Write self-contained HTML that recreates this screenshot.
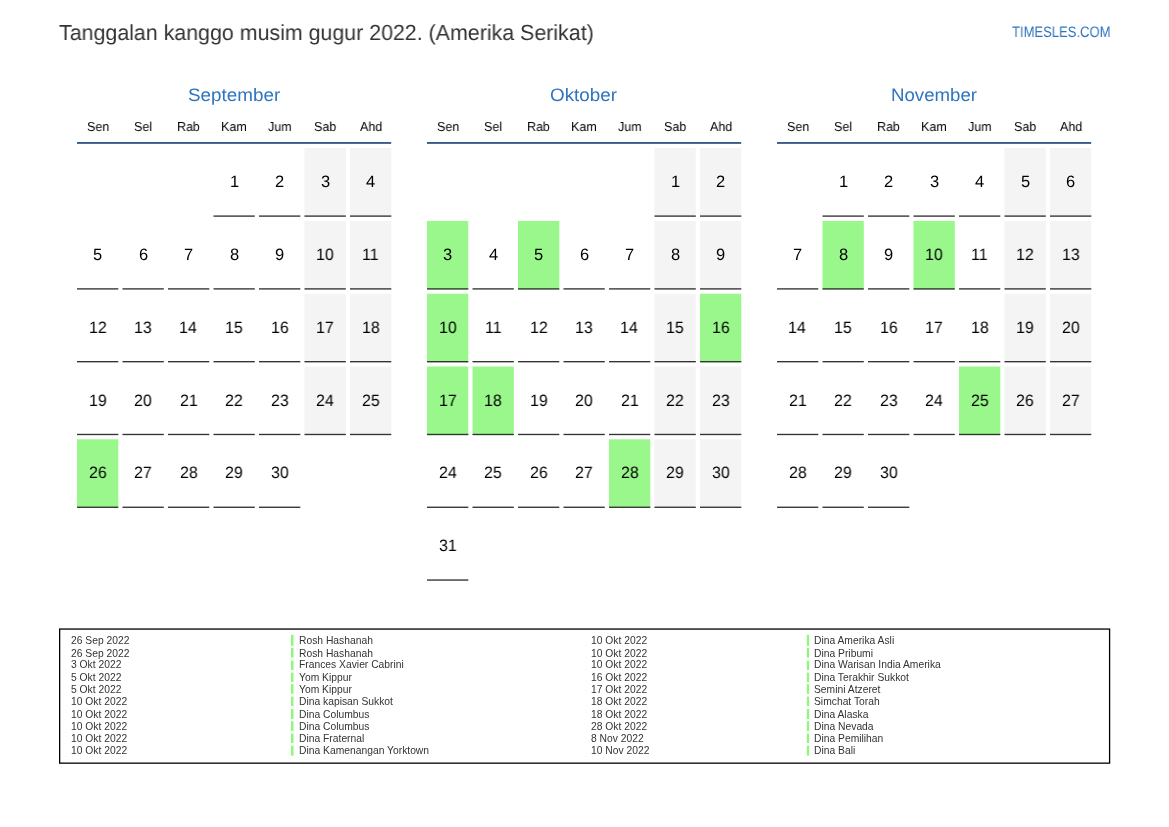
<!DOCTYPE html>
<html><head><meta charset="utf-8"><style>
html,body{margin:0;padding:0;background:#fff;}
body{width:1169px;height:827px;position:relative;overflow:hidden;font-family:"Liberation Sans",sans-serif;}
svg{position:absolute;left:0;top:0;}
.t{position:absolute;white-space:pre;transform-origin:0 0;will-change:transform;text-rendering:geometricPrecision;}
.th{position:absolute;white-space:pre;transform-origin:0 0;will-change:transform;}
</style></head><body>
<svg width="1169" height="827" viewBox="0 0 1169 827">
<rect x="77.00" y="142.00" width="314.20" height="1.90" fill="#385c8a"/>
<rect x="213.50" y="215.43" width="41.30" height="1.35" fill="#333"/>
<rect x="259.00" y="215.43" width="41.30" height="1.35" fill="#333"/>
<rect x="304.50" y="148.13" width="41.30" height="68.65" fill="#f4f4f4"/>
<rect x="304.50" y="215.43" width="41.30" height="1.35" fill="#333"/>
<rect x="350.00" y="148.13" width="41.30" height="68.65" fill="#f4f4f4"/>
<rect x="350.00" y="215.43" width="41.30" height="1.35" fill="#333"/>
<rect x="77.00" y="288.22" width="41.30" height="1.35" fill="#333"/>
<rect x="122.50" y="288.22" width="41.30" height="1.35" fill="#333"/>
<rect x="168.00" y="288.22" width="41.30" height="1.35" fill="#333"/>
<rect x="213.50" y="288.22" width="41.30" height="1.35" fill="#333"/>
<rect x="259.00" y="288.22" width="41.30" height="1.35" fill="#333"/>
<rect x="304.50" y="220.92" width="41.30" height="68.65" fill="#f4f4f4"/>
<rect x="304.50" y="288.22" width="41.30" height="1.35" fill="#333"/>
<rect x="350.00" y="220.92" width="41.30" height="68.65" fill="#f4f4f4"/>
<rect x="350.00" y="288.22" width="41.30" height="1.35" fill="#333"/>
<rect x="77.00" y="361.01" width="41.30" height="1.35" fill="#333"/>
<rect x="122.50" y="361.01" width="41.30" height="1.35" fill="#333"/>
<rect x="168.00" y="361.01" width="41.30" height="1.35" fill="#333"/>
<rect x="213.50" y="361.01" width="41.30" height="1.35" fill="#333"/>
<rect x="259.00" y="361.01" width="41.30" height="1.35" fill="#333"/>
<rect x="304.50" y="293.71" width="41.30" height="68.65" fill="#f4f4f4"/>
<rect x="304.50" y="361.01" width="41.30" height="1.35" fill="#333"/>
<rect x="350.00" y="293.71" width="41.30" height="68.65" fill="#f4f4f4"/>
<rect x="350.00" y="361.01" width="41.30" height="1.35" fill="#333"/>
<rect x="77.00" y="433.80" width="41.30" height="1.35" fill="#333"/>
<rect x="122.50" y="433.80" width="41.30" height="1.35" fill="#333"/>
<rect x="168.00" y="433.80" width="41.30" height="1.35" fill="#333"/>
<rect x="213.50" y="433.80" width="41.30" height="1.35" fill="#333"/>
<rect x="259.00" y="433.80" width="41.30" height="1.35" fill="#333"/>
<rect x="304.50" y="366.50" width="41.30" height="68.65" fill="#f4f4f4"/>
<rect x="304.50" y="433.80" width="41.30" height="1.35" fill="#333"/>
<rect x="350.00" y="366.50" width="41.30" height="68.65" fill="#f4f4f4"/>
<rect x="350.00" y="433.80" width="41.30" height="1.35" fill="#333"/>
<rect x="77.00" y="439.29" width="41.30" height="68.65" fill="#99f78b"/>
<rect x="77.00" y="506.59" width="41.30" height="1.35" fill="#333"/>
<rect x="122.50" y="506.59" width="41.30" height="1.35" fill="#333"/>
<rect x="168.00" y="506.59" width="41.30" height="1.35" fill="#333"/>
<rect x="213.50" y="506.59" width="41.30" height="1.35" fill="#333"/>
<rect x="259.00" y="506.59" width="41.30" height="1.35" fill="#333"/>
<rect x="427.00" y="142.00" width="314.20" height="1.90" fill="#385c8a"/>
<rect x="654.50" y="148.13" width="41.30" height="68.65" fill="#f4f4f4"/>
<rect x="654.50" y="215.43" width="41.30" height="1.35" fill="#333"/>
<rect x="700.00" y="148.13" width="41.30" height="68.65" fill="#f4f4f4"/>
<rect x="700.00" y="215.43" width="41.30" height="1.35" fill="#333"/>
<rect x="427.00" y="220.92" width="41.30" height="68.65" fill="#99f78b"/>
<rect x="427.00" y="288.22" width="41.30" height="1.35" fill="#333"/>
<rect x="472.50" y="288.22" width="41.30" height="1.35" fill="#333"/>
<rect x="518.00" y="220.92" width="41.30" height="68.65" fill="#99f78b"/>
<rect x="518.00" y="288.22" width="41.30" height="1.35" fill="#333"/>
<rect x="563.50" y="288.22" width="41.30" height="1.35" fill="#333"/>
<rect x="609.00" y="288.22" width="41.30" height="1.35" fill="#333"/>
<rect x="654.50" y="220.92" width="41.30" height="68.65" fill="#f4f4f4"/>
<rect x="654.50" y="288.22" width="41.30" height="1.35" fill="#333"/>
<rect x="700.00" y="220.92" width="41.30" height="68.65" fill="#f4f4f4"/>
<rect x="700.00" y="288.22" width="41.30" height="1.35" fill="#333"/>
<rect x="427.00" y="293.71" width="41.30" height="68.65" fill="#99f78b"/>
<rect x="427.00" y="361.01" width="41.30" height="1.35" fill="#333"/>
<rect x="472.50" y="361.01" width="41.30" height="1.35" fill="#333"/>
<rect x="518.00" y="361.01" width="41.30" height="1.35" fill="#333"/>
<rect x="563.50" y="361.01" width="41.30" height="1.35" fill="#333"/>
<rect x="609.00" y="361.01" width="41.30" height="1.35" fill="#333"/>
<rect x="654.50" y="293.71" width="41.30" height="68.65" fill="#f4f4f4"/>
<rect x="654.50" y="361.01" width="41.30" height="1.35" fill="#333"/>
<rect x="700.00" y="293.71" width="41.30" height="68.65" fill="#99f78b"/>
<rect x="700.00" y="361.01" width="41.30" height="1.35" fill="#333"/>
<rect x="427.00" y="366.50" width="41.30" height="68.65" fill="#99f78b"/>
<rect x="427.00" y="433.80" width="41.30" height="1.35" fill="#333"/>
<rect x="472.50" y="366.50" width="41.30" height="68.65" fill="#99f78b"/>
<rect x="472.50" y="433.80" width="41.30" height="1.35" fill="#333"/>
<rect x="518.00" y="433.80" width="41.30" height="1.35" fill="#333"/>
<rect x="563.50" y="433.80" width="41.30" height="1.35" fill="#333"/>
<rect x="609.00" y="433.80" width="41.30" height="1.35" fill="#333"/>
<rect x="654.50" y="366.50" width="41.30" height="68.65" fill="#f4f4f4"/>
<rect x="654.50" y="433.80" width="41.30" height="1.35" fill="#333"/>
<rect x="700.00" y="366.50" width="41.30" height="68.65" fill="#f4f4f4"/>
<rect x="700.00" y="433.80" width="41.30" height="1.35" fill="#333"/>
<rect x="427.00" y="506.59" width="41.30" height="1.35" fill="#333"/>
<rect x="472.50" y="506.59" width="41.30" height="1.35" fill="#333"/>
<rect x="518.00" y="506.59" width="41.30" height="1.35" fill="#333"/>
<rect x="563.50" y="506.59" width="41.30" height="1.35" fill="#333"/>
<rect x="609.00" y="439.29" width="41.30" height="68.65" fill="#99f78b"/>
<rect x="609.00" y="506.59" width="41.30" height="1.35" fill="#333"/>
<rect x="654.50" y="439.29" width="41.30" height="68.65" fill="#f4f4f4"/>
<rect x="654.50" y="506.59" width="41.30" height="1.35" fill="#333"/>
<rect x="700.00" y="439.29" width="41.30" height="68.65" fill="#f4f4f4"/>
<rect x="700.00" y="506.59" width="41.30" height="1.35" fill="#333"/>
<rect x="427.00" y="579.38" width="41.30" height="1.35" fill="#333"/>
<rect x="777.00" y="142.00" width="314.20" height="1.90" fill="#385c8a"/>
<rect x="822.50" y="215.43" width="41.30" height="1.35" fill="#333"/>
<rect x="868.00" y="215.43" width="41.30" height="1.35" fill="#333"/>
<rect x="913.50" y="215.43" width="41.30" height="1.35" fill="#333"/>
<rect x="959.00" y="215.43" width="41.30" height="1.35" fill="#333"/>
<rect x="1004.50" y="148.13" width="41.30" height="68.65" fill="#f4f4f4"/>
<rect x="1004.50" y="215.43" width="41.30" height="1.35" fill="#333"/>
<rect x="1050.00" y="148.13" width="41.30" height="68.65" fill="#f4f4f4"/>
<rect x="1050.00" y="215.43" width="41.30" height="1.35" fill="#333"/>
<rect x="777.00" y="288.22" width="41.30" height="1.35" fill="#333"/>
<rect x="822.50" y="220.92" width="41.30" height="68.65" fill="#99f78b"/>
<rect x="822.50" y="288.22" width="41.30" height="1.35" fill="#333"/>
<rect x="868.00" y="288.22" width="41.30" height="1.35" fill="#333"/>
<rect x="913.50" y="220.92" width="41.30" height="68.65" fill="#99f78b"/>
<rect x="913.50" y="288.22" width="41.30" height="1.35" fill="#333"/>
<rect x="959.00" y="288.22" width="41.30" height="1.35" fill="#333"/>
<rect x="1004.50" y="220.92" width="41.30" height="68.65" fill="#f4f4f4"/>
<rect x="1004.50" y="288.22" width="41.30" height="1.35" fill="#333"/>
<rect x="1050.00" y="220.92" width="41.30" height="68.65" fill="#f4f4f4"/>
<rect x="1050.00" y="288.22" width="41.30" height="1.35" fill="#333"/>
<rect x="777.00" y="361.01" width="41.30" height="1.35" fill="#333"/>
<rect x="822.50" y="361.01" width="41.30" height="1.35" fill="#333"/>
<rect x="868.00" y="361.01" width="41.30" height="1.35" fill="#333"/>
<rect x="913.50" y="361.01" width="41.30" height="1.35" fill="#333"/>
<rect x="959.00" y="361.01" width="41.30" height="1.35" fill="#333"/>
<rect x="1004.50" y="293.71" width="41.30" height="68.65" fill="#f4f4f4"/>
<rect x="1004.50" y="361.01" width="41.30" height="1.35" fill="#333"/>
<rect x="1050.00" y="293.71" width="41.30" height="68.65" fill="#f4f4f4"/>
<rect x="1050.00" y="361.01" width="41.30" height="1.35" fill="#333"/>
<rect x="777.00" y="433.80" width="41.30" height="1.35" fill="#333"/>
<rect x="822.50" y="433.80" width="41.30" height="1.35" fill="#333"/>
<rect x="868.00" y="433.80" width="41.30" height="1.35" fill="#333"/>
<rect x="913.50" y="433.80" width="41.30" height="1.35" fill="#333"/>
<rect x="959.00" y="366.50" width="41.30" height="68.65" fill="#99f78b"/>
<rect x="959.00" y="433.80" width="41.30" height="1.35" fill="#333"/>
<rect x="1004.50" y="366.50" width="41.30" height="68.65" fill="#f4f4f4"/>
<rect x="1004.50" y="433.80" width="41.30" height="1.35" fill="#333"/>
<rect x="1050.00" y="366.50" width="41.30" height="68.65" fill="#f4f4f4"/>
<rect x="1050.00" y="433.80" width="41.30" height="1.35" fill="#333"/>
<rect x="777.00" y="506.59" width="41.30" height="1.35" fill="#333"/>
<rect x="822.50" y="506.59" width="41.30" height="1.35" fill="#333"/>
<rect x="868.00" y="506.59" width="41.30" height="1.35" fill="#333"/>
<rect x="59.65" y="629.05" width="1049.95" height="134.1" fill="none" stroke="#000" stroke-width="1.3"/>
<rect x="291.00" y="634.80" width="2.50" height="11.00" fill="#8ef77c"/>
<rect x="291.00" y="648.00" width="2.50" height="9.60" fill="#8ef77c"/>
<rect x="291.00" y="660.60" width="2.50" height="9.40" fill="#8ef77c"/>
<rect x="291.00" y="672.60" width="2.50" height="9.40" fill="#8ef77c"/>
<rect x="291.00" y="684.20" width="2.50" height="9.60" fill="#8ef77c"/>
<rect x="291.00" y="696.60" width="2.50" height="9.40" fill="#8ef77c"/>
<rect x="291.00" y="709.00" width="2.50" height="10.00" fill="#8ef77c"/>
<rect x="291.00" y="721.20" width="2.50" height="9.80" fill="#8ef77c"/>
<rect x="291.00" y="733.60" width="2.50" height="9.40" fill="#8ef77c"/>
<rect x="291.00" y="745.60" width="2.50" height="10.00" fill="#8ef77c"/>
<rect x="806.85" y="634.80" width="2.30" height="11.00" fill="#8ef77c"/>
<rect x="806.85" y="648.00" width="2.30" height="9.60" fill="#8ef77c"/>
<rect x="806.85" y="660.60" width="2.30" height="9.40" fill="#8ef77c"/>
<rect x="806.85" y="672.60" width="2.30" height="9.40" fill="#8ef77c"/>
<rect x="806.85" y="684.20" width="2.30" height="9.60" fill="#8ef77c"/>
<rect x="806.85" y="696.60" width="2.30" height="9.40" fill="#8ef77c"/>
<rect x="806.85" y="709.00" width="2.30" height="10.00" fill="#8ef77c"/>
<rect x="806.85" y="721.20" width="2.30" height="9.80" fill="#8ef77c"/>
<rect x="806.85" y="733.60" width="2.30" height="9.40" fill="#8ef77c"/>
<rect x="806.85" y="745.60" width="2.30" height="10.00" fill="#8ef77c"/>
</svg>
<div class="t" style="left:59px;top:22px;font-size:21.8px;line-height:21.8px;color:#333;transform:scaleX(0.9808);">Tanggalan kanggo musim gugur 2022. (Amerika Serikat)</div>
<div class="t" style="left:1012px;top:25px;font-size:15.1px;line-height:15.1px;color:#2e75bf;transform:scaleX(0.8637);">TIMESLES.COM</div>
<div class="t" style="left:188px;top:86px;font-size:18.0px;line-height:18.0px;color:#2e75bf;transform:scaleX(1.0467);">September</div>
<div class="t" style="left:87px;top:120px;font-size:13.0px;line-height:13.0px;color:#000;transform:scaleX(0.9595);">Sen</div>
<div class="t" style="left:134px;top:120px;font-size:13.0px;line-height:13.0px;color:#000;transform:scaleX(0.9595);">Sel</div>
<div class="t" style="left:177px;top:120px;font-size:13.0px;line-height:13.0px;color:#000;transform:scaleX(0.9595);">Rab</div>
<div class="t" style="left:221px;top:120px;font-size:13.0px;line-height:13.0px;color:#000;transform:scaleX(0.9595);">Kam</div>
<div class="t" style="left:268px;top:120px;font-size:13.0px;line-height:13.0px;color:#000;transform:scaleX(0.9595);">Jum</div>
<div class="t" style="left:314px;top:120px;font-size:13.0px;line-height:13.0px;color:#000;transform:scaleX(0.9595);">Sab</div>
<div class="t" style="left:360px;top:120px;font-size:13.0px;line-height:13.0px;color:#000;transform:scaleX(0.9595);">Ahd</div>
<div class="t" style="left:230px;top:174px;font-size:16.5px;line-height:16.5px;color:#000;transform:scaleX(0.9638);">1</div>
<div class="t" style="left:275px;top:174px;font-size:16.5px;line-height:16.5px;color:#000;transform:scaleX(0.9638);">2</div>
<div class="t" style="left:321px;top:174px;font-size:16.5px;line-height:16.5px;color:#000;transform:scaleX(0.9638);">3</div>
<div class="t" style="left:366px;top:174px;font-size:16.5px;line-height:16.5px;color:#000;transform:scaleX(0.9638);">4</div>
<div class="t" style="left:93px;top:247px;font-size:16.5px;line-height:16.5px;color:#000;transform:scaleX(0.9638);">5</div>
<div class="t" style="left:139px;top:247px;font-size:16.5px;line-height:16.5px;color:#000;transform:scaleX(0.9638);">6</div>
<div class="t" style="left:184px;top:247px;font-size:16.5px;line-height:16.5px;color:#000;transform:scaleX(0.9638);">7</div>
<div class="t" style="left:230px;top:247px;font-size:16.5px;line-height:16.5px;color:#000;transform:scaleX(0.9638);">8</div>
<div class="t" style="left:275px;top:247px;font-size:16.5px;line-height:16.5px;color:#000;transform:scaleX(0.9638);">9</div>
<div class="t" style="left:316px;top:247px;font-size:16.5px;line-height:16.5px;color:#000;transform:scaleX(0.9638);">10</div>
<div class="t" style="left:362px;top:247px;font-size:16.5px;line-height:16.5px;color:#000;transform:scaleX(0.9638);">11</div>
<div class="t" style="left:89px;top:320px;font-size:16.5px;line-height:16.5px;color:#000;transform:scaleX(0.9638);">12</div>
<div class="t" style="left:134px;top:320px;font-size:16.5px;line-height:16.5px;color:#000;transform:scaleX(0.9638);">13</div>
<div class="t" style="left:179px;top:320px;font-size:16.5px;line-height:16.5px;color:#000;transform:scaleX(0.9638);">14</div>
<div class="t" style="left:225px;top:320px;font-size:16.5px;line-height:16.5px;color:#000;transform:scaleX(0.9638);">15</div>
<div class="t" style="left:271px;top:320px;font-size:16.5px;line-height:16.5px;color:#000;transform:scaleX(0.9638);">16</div>
<div class="t" style="left:316px;top:320px;font-size:16.5px;line-height:16.5px;color:#000;transform:scaleX(0.9638);">17</div>
<div class="t" style="left:362px;top:320px;font-size:16.5px;line-height:16.5px;color:#000;transform:scaleX(0.9638);">18</div>
<div class="t" style="left:89px;top:393px;font-size:16.5px;line-height:16.5px;color:#000;transform:scaleX(0.9638);">19</div>
<div class="t" style="left:134px;top:393px;font-size:16.5px;line-height:16.5px;color:#000;transform:scaleX(0.9638);">20</div>
<div class="t" style="left:180px;top:393px;font-size:16.5px;line-height:16.5px;color:#000;transform:scaleX(0.9638);">21</div>
<div class="t" style="left:225px;top:393px;font-size:16.5px;line-height:16.5px;color:#000;transform:scaleX(0.9638);">22</div>
<div class="t" style="left:271px;top:393px;font-size:16.5px;line-height:16.5px;color:#000;transform:scaleX(0.9638);">23</div>
<div class="t" style="left:316px;top:393px;font-size:16.5px;line-height:16.5px;color:#000;transform:scaleX(0.9638);">24</div>
<div class="t" style="left:362px;top:393px;font-size:16.5px;line-height:16.5px;color:#000;transform:scaleX(0.9638);">25</div>
<div class="t" style="left:89px;top:465px;font-size:16.5px;line-height:16.5px;color:#000;transform:scaleX(0.9638);">26</div>
<div class="t" style="left:134px;top:465px;font-size:16.5px;line-height:16.5px;color:#000;transform:scaleX(0.9638);">27</div>
<div class="t" style="left:180px;top:465px;font-size:16.5px;line-height:16.5px;color:#000;transform:scaleX(0.9638);">28</div>
<div class="t" style="left:225px;top:465px;font-size:16.5px;line-height:16.5px;color:#000;transform:scaleX(0.9638);">29</div>
<div class="t" style="left:271px;top:465px;font-size:16.5px;line-height:16.5px;color:#000;transform:scaleX(0.9638);">30</div>
<div class="t" style="left:550px;top:86px;font-size:18.0px;line-height:18.0px;color:#2e75bf;transform:scaleX(1.0459);">Oktober</div>
<div class="t" style="left:437px;top:120px;font-size:13.0px;line-height:13.0px;color:#000;transform:scaleX(0.9595);">Sen</div>
<div class="t" style="left:484px;top:120px;font-size:13.0px;line-height:13.0px;color:#000;transform:scaleX(0.9595);">Sel</div>
<div class="t" style="left:527px;top:120px;font-size:13.0px;line-height:13.0px;color:#000;transform:scaleX(0.9595);">Rab</div>
<div class="t" style="left:571px;top:120px;font-size:13.0px;line-height:13.0px;color:#000;transform:scaleX(0.9595);">Kam</div>
<div class="t" style="left:618px;top:120px;font-size:13.0px;line-height:13.0px;color:#000;transform:scaleX(0.9595);">Jum</div>
<div class="t" style="left:664px;top:120px;font-size:13.0px;line-height:13.0px;color:#000;transform:scaleX(0.9595);">Sab</div>
<div class="t" style="left:710px;top:120px;font-size:13.0px;line-height:13.0px;color:#000;transform:scaleX(0.9595);">Ahd</div>
<div class="t" style="left:671px;top:174px;font-size:16.5px;line-height:16.5px;color:#000;transform:scaleX(0.9638);">1</div>
<div class="t" style="left:716px;top:174px;font-size:16.5px;line-height:16.5px;color:#000;transform:scaleX(0.9638);">2</div>
<div class="t" style="left:443px;top:247px;font-size:16.5px;line-height:16.5px;color:#000;transform:scaleX(0.9638);">3</div>
<div class="t" style="left:489px;top:247px;font-size:16.5px;line-height:16.5px;color:#000;transform:scaleX(0.9638);">4</div>
<div class="t" style="left:534px;top:247px;font-size:16.5px;line-height:16.5px;color:#000;transform:scaleX(0.9638);">5</div>
<div class="t" style="left:580px;top:247px;font-size:16.5px;line-height:16.5px;color:#000;transform:scaleX(0.9638);">6</div>
<div class="t" style="left:625px;top:247px;font-size:16.5px;line-height:16.5px;color:#000;transform:scaleX(0.9638);">7</div>
<div class="t" style="left:671px;top:247px;font-size:16.5px;line-height:16.5px;color:#000;transform:scaleX(0.9638);">8</div>
<div class="t" style="left:716px;top:247px;font-size:16.5px;line-height:16.5px;color:#000;transform:scaleX(0.9638);">9</div>
<div class="t" style="left:439px;top:320px;font-size:16.5px;line-height:16.5px;color:#000;transform:scaleX(0.9638);">10</div>
<div class="t" style="left:485px;top:320px;font-size:16.5px;line-height:16.5px;color:#000;transform:scaleX(0.9638);">11</div>
<div class="t" style="left:530px;top:320px;font-size:16.5px;line-height:16.5px;color:#000;transform:scaleX(0.9638);">12</div>
<div class="t" style="left:575px;top:320px;font-size:16.5px;line-height:16.5px;color:#000;transform:scaleX(0.9638);">13</div>
<div class="t" style="left:620px;top:320px;font-size:16.5px;line-height:16.5px;color:#000;transform:scaleX(0.9638);">14</div>
<div class="t" style="left:666px;top:320px;font-size:16.5px;line-height:16.5px;color:#000;transform:scaleX(0.9638);">15</div>
<div class="t" style="left:712px;top:320px;font-size:16.5px;line-height:16.5px;color:#000;transform:scaleX(0.9638);">16</div>
<div class="t" style="left:439px;top:393px;font-size:16.5px;line-height:16.5px;color:#000;transform:scaleX(0.9638);">17</div>
<div class="t" style="left:484px;top:393px;font-size:16.5px;line-height:16.5px;color:#000;transform:scaleX(0.9638);">18</div>
<div class="t" style="left:530px;top:393px;font-size:16.5px;line-height:16.5px;color:#000;transform:scaleX(0.9638);">19</div>
<div class="t" style="left:575px;top:393px;font-size:16.5px;line-height:16.5px;color:#000;transform:scaleX(0.9638);">20</div>
<div class="t" style="left:621px;top:393px;font-size:16.5px;line-height:16.5px;color:#000;transform:scaleX(0.9638);">21</div>
<div class="t" style="left:666px;top:393px;font-size:16.5px;line-height:16.5px;color:#000;transform:scaleX(0.9638);">22</div>
<div class="t" style="left:712px;top:393px;font-size:16.5px;line-height:16.5px;color:#000;transform:scaleX(0.9638);">23</div>
<div class="t" style="left:439px;top:465px;font-size:16.5px;line-height:16.5px;color:#000;transform:scaleX(0.9638);">24</div>
<div class="t" style="left:484px;top:465px;font-size:16.5px;line-height:16.5px;color:#000;transform:scaleX(0.9638);">25</div>
<div class="t" style="left:530px;top:465px;font-size:16.5px;line-height:16.5px;color:#000;transform:scaleX(0.9638);">26</div>
<div class="t" style="left:575px;top:465px;font-size:16.5px;line-height:16.5px;color:#000;transform:scaleX(0.9638);">27</div>
<div class="t" style="left:621px;top:465px;font-size:16.5px;line-height:16.5px;color:#000;transform:scaleX(0.9638);">28</div>
<div class="t" style="left:666px;top:465px;font-size:16.5px;line-height:16.5px;color:#000;transform:scaleX(0.9638);">29</div>
<div class="t" style="left:712px;top:465px;font-size:16.5px;line-height:16.5px;color:#000;transform:scaleX(0.9638);">30</div>
<div class="t" style="left:439px;top:538px;font-size:16.5px;line-height:16.5px;color:#000;transform:scaleX(0.9638);">31</div>
<div class="t" style="left:891px;top:86px;font-size:18.0px;line-height:18.0px;color:#2e75bf;transform:scaleX(1.0361);">November</div>
<div class="t" style="left:787px;top:120px;font-size:13.0px;line-height:13.0px;color:#000;transform:scaleX(0.9595);">Sen</div>
<div class="t" style="left:834px;top:120px;font-size:13.0px;line-height:13.0px;color:#000;transform:scaleX(0.9595);">Sel</div>
<div class="t" style="left:877px;top:120px;font-size:13.0px;line-height:13.0px;color:#000;transform:scaleX(0.9595);">Rab</div>
<div class="t" style="left:921px;top:120px;font-size:13.0px;line-height:13.0px;color:#000;transform:scaleX(0.9595);">Kam</div>
<div class="t" style="left:968px;top:120px;font-size:13.0px;line-height:13.0px;color:#000;transform:scaleX(0.9595);">Jum</div>
<div class="t" style="left:1014px;top:120px;font-size:13.0px;line-height:13.0px;color:#000;transform:scaleX(0.9595);">Sab</div>
<div class="t" style="left:1060px;top:120px;font-size:13.0px;line-height:13.0px;color:#000;transform:scaleX(0.9595);">Ahd</div>
<div class="t" style="left:839px;top:174px;font-size:16.5px;line-height:16.5px;color:#000;transform:scaleX(0.9638);">1</div>
<div class="t" style="left:884px;top:174px;font-size:16.5px;line-height:16.5px;color:#000;transform:scaleX(0.9638);">2</div>
<div class="t" style="left:930px;top:174px;font-size:16.5px;line-height:16.5px;color:#000;transform:scaleX(0.9638);">3</div>
<div class="t" style="left:975px;top:174px;font-size:16.5px;line-height:16.5px;color:#000;transform:scaleX(0.9638);">4</div>
<div class="t" style="left:1021px;top:174px;font-size:16.5px;line-height:16.5px;color:#000;transform:scaleX(0.9638);">5</div>
<div class="t" style="left:1066px;top:174px;font-size:16.5px;line-height:16.5px;color:#000;transform:scaleX(0.9638);">6</div>
<div class="t" style="left:793px;top:247px;font-size:16.5px;line-height:16.5px;color:#000;transform:scaleX(0.9638);">7</div>
<div class="t" style="left:839px;top:247px;font-size:16.5px;line-height:16.5px;color:#000;transform:scaleX(0.9638);">8</div>
<div class="t" style="left:884px;top:247px;font-size:16.5px;line-height:16.5px;color:#000;transform:scaleX(0.9638);">9</div>
<div class="t" style="left:925px;top:247px;font-size:16.5px;line-height:16.5px;color:#000;transform:scaleX(0.9638);">10</div>
<div class="t" style="left:971px;top:247px;font-size:16.5px;line-height:16.5px;color:#000;transform:scaleX(0.9638);">11</div>
<div class="t" style="left:1016px;top:247px;font-size:16.5px;line-height:16.5px;color:#000;transform:scaleX(0.9638);">12</div>
<div class="t" style="left:1062px;top:247px;font-size:16.5px;line-height:16.5px;color:#000;transform:scaleX(0.9638);">13</div>
<div class="t" style="left:788px;top:320px;font-size:16.5px;line-height:16.5px;color:#000;transform:scaleX(0.9638);">14</div>
<div class="t" style="left:834px;top:320px;font-size:16.5px;line-height:16.5px;color:#000;transform:scaleX(0.9638);">15</div>
<div class="t" style="left:880px;top:320px;font-size:16.5px;line-height:16.5px;color:#000;transform:scaleX(0.9638);">16</div>
<div class="t" style="left:925px;top:320px;font-size:16.5px;line-height:16.5px;color:#000;transform:scaleX(0.9638);">17</div>
<div class="t" style="left:971px;top:320px;font-size:16.5px;line-height:16.5px;color:#000;transform:scaleX(0.9638);">18</div>
<div class="t" style="left:1016px;top:320px;font-size:16.5px;line-height:16.5px;color:#000;transform:scaleX(0.9638);">19</div>
<div class="t" style="left:1062px;top:320px;font-size:16.5px;line-height:16.5px;color:#000;transform:scaleX(0.9638);">20</div>
<div class="t" style="left:789px;top:393px;font-size:16.5px;line-height:16.5px;color:#000;transform:scaleX(0.9638);">21</div>
<div class="t" style="left:834px;top:393px;font-size:16.5px;line-height:16.5px;color:#000;transform:scaleX(0.9638);">22</div>
<div class="t" style="left:880px;top:393px;font-size:16.5px;line-height:16.5px;color:#000;transform:scaleX(0.9638);">23</div>
<div class="t" style="left:925px;top:393px;font-size:16.5px;line-height:16.5px;color:#000;transform:scaleX(0.9638);">24</div>
<div class="t" style="left:971px;top:393px;font-size:16.5px;line-height:16.5px;color:#000;transform:scaleX(0.9638);">25</div>
<div class="t" style="left:1016px;top:393px;font-size:16.5px;line-height:16.5px;color:#000;transform:scaleX(0.9638);">26</div>
<div class="t" style="left:1062px;top:393px;font-size:16.5px;line-height:16.5px;color:#000;transform:scaleX(0.9638);">27</div>
<div class="t" style="left:789px;top:465px;font-size:16.5px;line-height:16.5px;color:#000;transform:scaleX(0.9638);">28</div>
<div class="t" style="left:834px;top:465px;font-size:16.5px;line-height:16.5px;color:#000;transform:scaleX(0.9638);">29</div>
<div class="t" style="left:880px;top:465px;font-size:16.5px;line-height:16.5px;color:#000;transform:scaleX(0.9638);">30</div>
<div class="th" style="left:71px;top:636px;font-size:10.1px;line-height:10.1px;color:#333;transform:scaleX(1.0209);">26 Sep 2022</div>
<div class="th" style="left:299px;top:636px;font-size:10.1px;line-height:10.1px;color:#333;transform:scaleX(1.0209);">Rosh Hashanah</div>
<div class="th" style="left:71px;top:649px;font-size:10.1px;line-height:10.1px;color:#333;transform:scaleX(1.0209);">26 Sep 2022</div>
<div class="th" style="left:299px;top:649px;font-size:10.1px;line-height:10.1px;color:#333;transform:scaleX(1.0209);">Rosh Hashanah</div>
<div class="th" style="left:71px;top:660px;font-size:10.1px;line-height:10.1px;color:#333;transform:scaleX(1.0209);">3 Okt 2022</div>
<div class="th" style="left:299px;top:660px;font-size:10.1px;line-height:10.1px;color:#333;transform:scaleX(1.0209);">Frances Xavier Cabrini</div>
<div class="th" style="left:71px;top:673px;font-size:10.1px;line-height:10.1px;color:#333;transform:scaleX(1.0209);">5 Okt 2022</div>
<div class="th" style="left:299px;top:673px;font-size:10.1px;line-height:10.1px;color:#333;transform:scaleX(1.0209);">Yom Kippur</div>
<div class="th" style="left:71px;top:685px;font-size:10.1px;line-height:10.1px;color:#333;transform:scaleX(1.0209);">5 Okt 2022</div>
<div class="th" style="left:299px;top:685px;font-size:10.1px;line-height:10.1px;color:#333;transform:scaleX(1.0209);">Yom Kippur</div>
<div class="th" style="left:71px;top:697px;font-size:10.1px;line-height:10.1px;color:#333;transform:scaleX(1.0209);">10 Okt 2022</div>
<div class="th" style="left:299px;top:697px;font-size:10.1px;line-height:10.1px;color:#333;transform:scaleX(1.0209);">Dina kapisan Sukkot</div>
<div class="th" style="left:71px;top:710px;font-size:10.1px;line-height:10.1px;color:#333;transform:scaleX(1.0209);">10 Okt 2022</div>
<div class="th" style="left:299px;top:710px;font-size:10.1px;line-height:10.1px;color:#333;transform:scaleX(1.0209);">Dina Columbus</div>
<div class="th" style="left:71px;top:722px;font-size:10.1px;line-height:10.1px;color:#333;transform:scaleX(1.0209);">10 Okt 2022</div>
<div class="th" style="left:299px;top:722px;font-size:10.1px;line-height:10.1px;color:#333;transform:scaleX(1.0209);">Dina Columbus</div>
<div class="th" style="left:71px;top:734px;font-size:10.1px;line-height:10.1px;color:#333;transform:scaleX(1.0209);">10 Okt 2022</div>
<div class="th" style="left:299px;top:734px;font-size:10.1px;line-height:10.1px;color:#333;transform:scaleX(1.0209);">Dina Fraternal</div>
<div class="th" style="left:71px;top:746px;font-size:10.1px;line-height:10.1px;color:#333;transform:scaleX(1.0209);">10 Okt 2022</div>
<div class="th" style="left:299px;top:746px;font-size:10.1px;line-height:10.1px;color:#333;transform:scaleX(1.0209);">Dina Kamenangan Yorktown</div>
<div class="th" style="left:591px;top:636px;font-size:10.1px;line-height:10.1px;color:#333;transform:scaleX(1.0209);">10 Okt 2022</div>
<div class="th" style="left:814px;top:636px;font-size:10.1px;line-height:10.1px;color:#333;transform:scaleX(1.0209);">Dina Amerika Asli</div>
<div class="th" style="left:591px;top:649px;font-size:10.1px;line-height:10.1px;color:#333;transform:scaleX(1.0209);">10 Okt 2022</div>
<div class="th" style="left:814px;top:649px;font-size:10.1px;line-height:10.1px;color:#333;transform:scaleX(1.0209);">Dina Pribumi</div>
<div class="th" style="left:591px;top:660px;font-size:10.1px;line-height:10.1px;color:#333;transform:scaleX(1.0209);">10 Okt 2022</div>
<div class="th" style="left:814px;top:660px;font-size:10.1px;line-height:10.1px;color:#333;transform:scaleX(1.0209);">Dina Warisan India Amerika</div>
<div class="th" style="left:591px;top:673px;font-size:10.1px;line-height:10.1px;color:#333;transform:scaleX(1.0209);">16 Okt 2022</div>
<div class="th" style="left:814px;top:673px;font-size:10.1px;line-height:10.1px;color:#333;transform:scaleX(1.0209);">Dina Terakhir Sukkot</div>
<div class="th" style="left:591px;top:685px;font-size:10.1px;line-height:10.1px;color:#333;transform:scaleX(1.0209);">17 Okt 2022</div>
<div class="th" style="left:814px;top:685px;font-size:10.1px;line-height:10.1px;color:#333;transform:scaleX(1.0209);">Semini Atzeret</div>
<div class="th" style="left:591px;top:697px;font-size:10.1px;line-height:10.1px;color:#333;transform:scaleX(1.0209);">18 Okt 2022</div>
<div class="th" style="left:814px;top:697px;font-size:10.1px;line-height:10.1px;color:#333;transform:scaleX(1.0209);">Simchat Torah</div>
<div class="th" style="left:591px;top:710px;font-size:10.1px;line-height:10.1px;color:#333;transform:scaleX(1.0209);">18 Okt 2022</div>
<div class="th" style="left:814px;top:710px;font-size:10.1px;line-height:10.1px;color:#333;transform:scaleX(1.0209);">Dina Alaska</div>
<div class="th" style="left:591px;top:722px;font-size:10.1px;line-height:10.1px;color:#333;transform:scaleX(1.0209);">28 Okt 2022</div>
<div class="th" style="left:814px;top:722px;font-size:10.1px;line-height:10.1px;color:#333;transform:scaleX(1.0209);">Dina Nevada</div>
<div class="th" style="left:591px;top:734px;font-size:10.1px;line-height:10.1px;color:#333;transform:scaleX(1.0209);">8 Nov 2022</div>
<div class="th" style="left:814px;top:734px;font-size:10.1px;line-height:10.1px;color:#333;transform:scaleX(1.0209);">Dina Pemilihan</div>
<div class="th" style="left:591px;top:746px;font-size:10.1px;line-height:10.1px;color:#333;transform:scaleX(1.0209);">10 Nov 2022</div>
<div class="th" style="left:814px;top:746px;font-size:10.1px;line-height:10.1px;color:#333;transform:scaleX(1.0209);">Dina Bali</div>
</body></html>
